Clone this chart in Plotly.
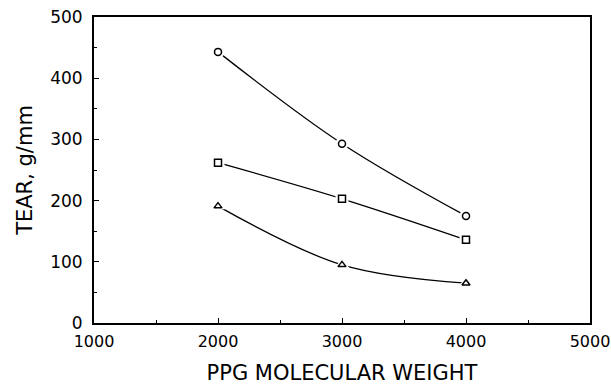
import plotly.graph_objects as go

mol_weight = [2000, 3000, 4000]
tear_circle = [443, 293, 175]
tear_square = [262, 203, 136]
tear_triangle = [191, 95, 65]

series = [
    (tear_circle, "circle-open"),
    (tear_square, "square-open"),
    (tear_triangle, "triangle-up-open"),
]

fig = go.Figure()
for vals, sym in series:
    fig.add_trace(go.Scatter(
        x=mol_weight, y=vals, mode="lines",
        line=dict(color="black", width=1.3, shape="spline", smoothing=1.0),
        showlegend=False, hoverinfo="skip"))
    # white halo to create the gap between line and marker
    fig.add_trace(go.Scatter(
        x=mol_weight, y=vals, mode="markers",
        marker=dict(symbol=sym.replace("-open", ""), size=13, color="white",
                    line=dict(width=0)),
        showlegend=False, hoverinfo="skip"))
    fig.add_trace(go.Scatter(
        x=mol_weight, y=vals, mode="markers",
        marker=dict(symbol=sym, size=7, color="black", line=dict(width=1.5)),
        showlegend=False))

font = "DejaVu Sans, Verdana, sans-serif"
fig.update_layout(
    width=611, height=385,
    margin=dict(l=94, r=21, t=17, b=62),
    paper_bgcolor="white", plot_bgcolor="white",
    font=dict(family=font, color="black", size=16),
    xaxis=dict(
        range=[1000, 5000], tickvals=[1000, 2000, 3000, 4000, 5000],
        ticks="inside", ticklen=5, tickwidth=1.2, tickcolor="black",
        minor=dict(tickvals=[1500, 2500, 3500, 4500], ticks="inside", ticklen=3,
                   tickcolor="black"),
        showline=True, linecolor="black", linewidth=2, mirror=True,
        showgrid=False, zeroline=False, automargin=False,
        tickfont=dict(size=16),
        ticklabelstandoff=3,
        title=dict(text="PPG MOLECULAR WEIGHT", font=dict(size=21), standoff=17),
    ),
    yaxis=dict(
        range=[0, 500], tickvals=[0, 100, 200, 300, 400, 500],
        ticks="inside", ticklen=5, tickwidth=1.2, tickcolor="black",
        minor=dict(tickvals=[50, 150, 250, 350, 450], ticks="inside", ticklen=3,
                   tickcolor="black"),
        showline=True, linecolor="black", linewidth=2, mirror=True,
        showgrid=False, zeroline=False, automargin=False,
        tickfont=dict(size=17),
        ticklabelstandoff=6,
        title=dict(text="TEAR, g/mm", font=dict(size=21), standoff=12),
    ),
)

fig.write_html("out.html")
